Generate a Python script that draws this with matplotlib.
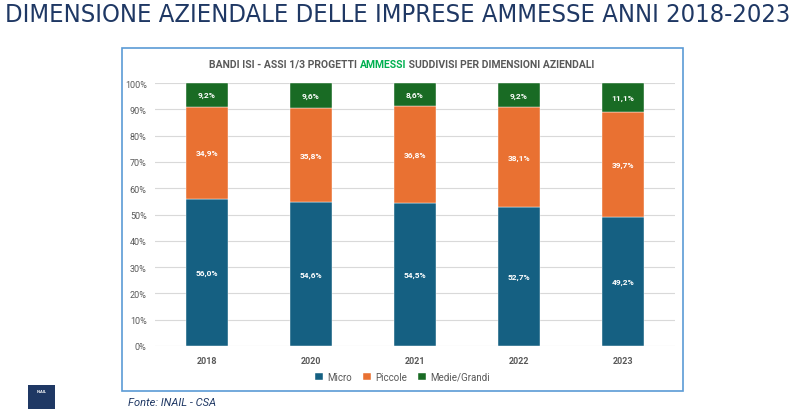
import matplotlib.pyplot as plt
from matplotlib.patches import Rectangle
import numpy as np

# data
years = ["2018", "2020", "2021", "2022", "2023"]
micro = [56.0, 54.6, 54.5, 52.7, 49.2]
piccole = [34.9, 35.8, 36.8, 38.1, 39.7]
medie_grandi = [9.2, 9.6, 8.6, 9.2, 11.1]
series_names = ["Micro", "Piccole", "Medie/Grandi"]
y_ticks = list(range(0, 101, 10))

colors = ["#156082", "#E97132", "#196B24"]
navy = "#1F3864"
grey = "#595959"

plt.rcParams["font.family"] = ["Roboto", "DejaVu Sans"]

fig = plt.figure(figsize=(8, 4.1), dpi=100)
fig.canvas.draw()
renderer = fig.canvas.get_renderer()

# page title, condensed and fitted to the reference width
title = fig.text(0.006, 0.963, "DIMENSIONE AZIENDALE DELLE IMPRESE AMMESSE ANNI 2018-2023",
                 family="DejaVu Sans", fontstretch="condensed",
                 fontsize=19, color=navy, va="center", ha="left")
tw = title.get_window_extent(renderer).width
title.set_fontsize(19 * 785 / tw)

# chart frame
fig.patches.append(Rectangle((122 / 800, 1 - 392 / 410), (683 - 122) / 800, (392 - 49) / 410,
                             transform=fig.transFigure, fill=False,
                             edgecolor="#5B9BD5", linewidth=1.2))

ax = fig.add_axes([155 / 800, 1 - 347 / 410, 520 / 800, (347 - 84) / 410])
x = np.arange(len(years))
width = 0.395
bottom = np.zeros(len(years))
for name, vals, col in zip(series_names, [micro, piccole, medie_grandi], colors):
    vals = np.array(vals)
    ax.bar(x, vals, width, bottom=bottom, color=col, label=name,
           edgecolor="white", linewidth=0.3, zorder=3)
    for xi, b, v in zip(x, bottom, vals):
        ax.text(xi, b + v / 2, f"{v:.1f}%".replace(".", ","), ha="center", va="center",
                color="white", fontsize=6, fontweight="bold", zorder=4)
    bottom += vals

ax.set_xlim(-0.5, len(years) - 0.5)
ax.set_ylim(0, 100)
ax.set_yticks(y_ticks)
ax.set_yticklabels([f"{t}%" for t in y_ticks])
ax.set_xticks(x)
ax.set_xticklabels(years)
ax.tick_params(axis="both", length=0, labelsize=6.5, labelcolor=grey)
ax.tick_params(axis="x", pad=7)
ax.tick_params(axis="y", pad=6)
for lab in ax.get_xticklabels():
    lab.set_fontweight("bold")
ax.grid(axis="y", color="#D9D9D9", linewidth=0.8, zorder=0)
for s in ax.spines.values():
    s.set_visible(False)

fig.legend(loc="center", bbox_to_anchor=(0.503, 1 - 378 / 410), ncol=3, frameon=False,
           fontsize=7, labelcolor=grey, handlelength=0.8, handleheight=0.8,
           handletextpad=0.4, columnspacing=1.2)

# chart title with green word
parts = [("BANDI ISI - ASSI 1/3 PROGETTI ", grey), ("AMMESSI", "#00B050"),
         (" SUDDIVISI PER DIMENSIONI AZIENDALI", grey)]
texts = []
for s, c in parts:
    t = fig.text(0, 1 - 65 / 410, s, color=c, fontsize=7.5, fontweight="bold",
                 va="center", ha="left")
    texts.append(t)
widths = [t.get_window_extent(renderer).width for t in texts]
x0 = 402 - sum(widths) / 2
for t, w in zip(texts, widths):
    t.set_x(x0 / 800)
    x0 += w

# logo and source
fig.patches.append(Rectangle((28 / 800, 0), 27 / 800, 24 / 410, transform=fig.transFigure,
                             facecolor="#1F3864", edgecolor="none"))
fig.text(41.5 / 800, 1 - 392 / 410, "INAIL", color="white", fontsize=3,
         fontweight="bold", ha="center", va="center")
fig.text(128 / 800, 1 - 403 / 410, "Fonte: INAIL - CSA", color=navy, fontsize=8,
         style="italic", ha="left", va="center")

fig.savefig("out.png", dpi=100)
